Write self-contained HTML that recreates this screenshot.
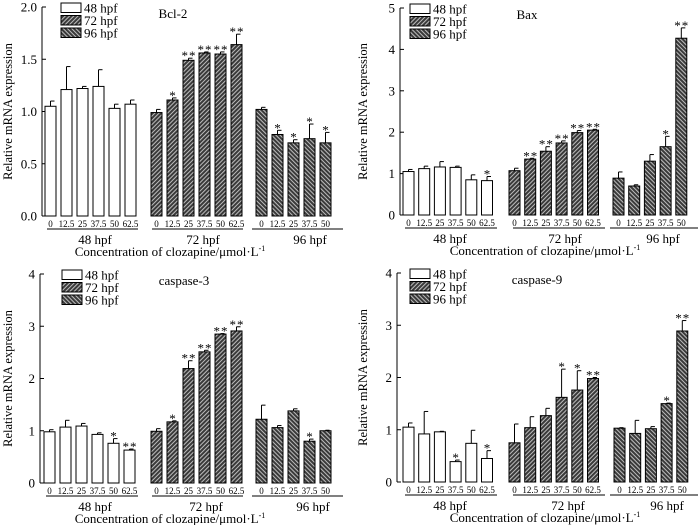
<!DOCTYPE html>
<html><head><meta charset="utf-8"><style>
html,body{margin:0;padding:0;background:#fff;}
svg{display:block;font-family:"Liberation Serif",serif;}
</style></head><body>
<svg id="chart" width="700" height="525" viewBox="0 0 700 525">
<defs>
<pattern id="h72" width="3" height="3" patternUnits="userSpaceOnUse" patternTransform="rotate(45)"><rect width="3" height="3" fill="#3a3a3a"/><rect width="1" height="3" fill="#bdbdbd"/></pattern>
<pattern id="h96" width="3" height="3" patternUnits="userSpaceOnUse" patternTransform="rotate(-45)"><rect width="3" height="3" fill="#3a3a3a"/><rect width="1" height="3" fill="#bdbdbd"/></pattern>
</defs>
</svg>
<script>
const cats48=["0","12.5","25","37.5","50","62.5"];
const cats72=["0","12.5","25","37.5","50","62.5"];
const cats96=["0","12.5","25","37.5","50"];
const groupLabels=["48 hpf","72 hpf","96 hpf"];
// Bcl-2
const bcl48=[1.05,1.21,1.22,1.24,1.03,1.07], bcl48e=[0.05,0.22,0.02,0.16,0.04,0.04], bcl48s=["","","","","",""];
const bcl72=[0.99,1.11,1.49,1.56,1.55,1.64], bcl72e=[0.03,0.02,0.02,0.01,0.02,0.10], bcl72s=["","*","**","**","**","**"];
const bcl96=[1.02,0.78,0.70,0.74,0.70], bcl96e=[0.02,0.04,0.03,0.14,0.10], bcl96s=["","*","*","*","*"];
const bclTicks=["0.0","0.5","1.0","1.5","2.0"];
// Bax
const bax48=[1.05,1.12,1.16,1.15,0.85,0.83], bax48e=[0.05,0.06,0.13,0.03,0.12,0.10], bax48s=["","","","","","*"];
const bax72=[1.07,1.35,1.54,1.74,1.99,2.05], bax72e=[0.06,0.02,0.11,0.05,0.05,0.02], bax72s=["","**","**","**","**","**"];
const bax96=[0.89,0.70,1.30,1.65,4.27], bax96e=[0.15,0.03,0.16,0.25,0.25], bax96s=["","","","*","**"];
const baxTicks=["0","1","2","3","4","5"];
// caspase-3
const c3_48=[0.98,1.07,1.09,0.93,0.76,0.63], c3_48e=[0.04,0.13,0.05,0.03,0.09,0.02], c3_48s=["","","","","*","**"];
const c3_72=[0.99,1.17,2.19,2.51,2.85,2.91], c3_72e=[0.05,0.02,0.15,0.03,0.01,0.08], c3_72s=["","*","**","**","**","**"];
const c3_96=[1.22,1.06,1.38,0.80,1.00], c3_96e=[0.27,0.04,0.04,0.04,0.01], c3_96s=["","","","*",""];
const c3Ticks=["0","1","2","3","4"];
// caspase-9
const c9_48=[1.05,0.92,0.96,0.39,0.74,0.45], c9_48e=[0.08,0.43,0.01,0.03,0.25,0.15], c9_48s=["","","","*","","*"];
const c9_72=[0.75,1.04,1.27,1.62,1.76,1.98], c9_72e=[0.36,0.21,0.14,0.54,0.37,0.02], c9_72s=["","","","*","*","**"];
const c9_96=[1.03,0.93,1.02,1.50,2.89], c9_96e=[0.01,0.25,0.04,0.01,0.20], c9_96s=["","","","*","**"];
const c9Ticks=["0","1","2","3","4"];

const NS="http://www.w3.org/2000/svg";
const svg=document.getElementById('chart');
function mk(tag,attrs,parent,text){const e=document.createElementNS(NS,tag);for(const k in attrs)e.setAttribute(k,attrs[k]);if(text!==undefined)e.textContent=text;parent.appendChild(e);return e;}

function panel(cfg){
  const g=mk('g',{},svg);
  
  
  const ymax=parseFloat(cfg.ticks[cfg.ticks.length-1]);
  const Y=v=>cfg.y0-(v/ymax)*(cfg.y0-cfg.yTop);
  const ax=mk('line',{x1:cfg.ax,x2:cfg.ax,y1:cfg.yTop,y2:cfg.y0,stroke:'#000','stroke-width':1},g);
  
  
  cfg.ticks.forEach(t=>{
    const v=parseFloat(t);const y=Y(v);
    mk('line',{x1:cfg.ax,x2:cfg.ax+4,y1:y,y2:y,stroke:'#000'},g);
    const tl=mk('text',{x:cfg.ax-5,y:y+4.5,'text-anchor':'end','font-size':13},g,t);
    
    
  });
  const cy=(cfg.yTop+cfg.y0)/2;
  const yt=mk('text',{x:0,y:0,'text-anchor':'middle','font-size':12.5,transform:`translate(${cfg.ytx},${cy}) rotate(-90)`},g,'Relative mRNA expression');
  
  
  const fills=['#fff','url(#h72)','url(#h96)'];
  const catsAll=[cats48,cats72,cats96];
  cfg.groups.forEach((grp,gi)=>{
    const [vals,errs,stars]=grp;
    vals.forEach((v,i)=>{
      const x=cfg.gx[gi]+i*cfg.sp, w=11;
      const r=mk('rect',{x:x,y:Y(v),width:w,height:cfg.y0-Y(v),fill:fills[gi],stroke:'#000','stroke-width':1},g);
      
      
      const ye=Y(v+errs[i]), cx=x+w/2;
      mk('line',{x1:cx,x2:cx,y1:Y(v),y2:ye,stroke:'#000'},g);
      mk('line',{x1:cx,x2:cx+4,y1:ye,y2:ye,stroke:'#000'},g);
      if(stars[i]){const s=mk('text',{x:cx+0.5,y:ye+2,'text-anchor':'middle','font-size':13,'letter-spacing':1},g,stars[i]);
        
        }
      const cl=mk('text',{x:cx,y:cfg.y0+11,'text-anchor':'middle','font-size':9},g,catsAll[gi][i]);
      
      
    });
    const [u1,u2]=cfg.ul[gi];
    mk('line',{x1:u1,x2:u2,y1:cfg.y0+13,y2:cfg.y0+13,stroke:'#000'},g);
    const gl=mk('text',{x:cfg.glx[gi],y:cfg.y0+28,'text-anchor':'middle','font-size':13},g,groupLabels[gi]);
    
    
  });
  const xt=mk('text',{x:cfg.xtx,y:cfg.y0+40,'text-anchor':'middle','font-size':13},g);
  
  
  xt.textContent='Concentration of clozapine/μmol·L';
  mk('tspan',{dy:-5,'font-size':8},xt,'-1');
  const lg=mk('g',{},g);
  
  
  groupLabels.forEach((l,i)=>{
    const y=cfg.yTop-4+i*12.5;
    mk('rect',{x:cfg.lx,y:y,width:20,height:9.5,fill:fills[i],stroke:'#000'},lg);
    mk('text',{x:cfg.lx+23,y:y+9.5,'font-size':13},lg,l);
  });
  const t=mk('text',{x:cfg.tx,y:cfg.yTop+11,'text-anchor':'middle','font-size':13},g,cfg.title);
  
  
}

panel({name:'bcl-2',title:'Bcl-2',ax:42,y0:216,yTop:7,ticks:bclTicks,ytx:12,sp:16,gx:[45,151,256],
  groups:[[bcl48,bcl48e,bcl48s],[bcl72,bcl72e,bcl72s],[bcl96,bcl96e,bcl96s]],
  ul:[[47,138],[152,243],[252,343]],glx:[95,203,310],xtx:170,lx:61,tx:173});
panel({name:'bax',title:'Bax',ax:400,y0:215,yTop:8,ticks:baxTicks,ytx:367,sp:15.7,gx:[403,509,613],
  groups:[[bax48,bax48e,bax48s],[bax72,bax72e,bax72s],[bax96,bax96e,bax96s]],
  ul:[[405,497],[513,605],[610,698]],glx:[450,565,663],xtx:545,lx:410,tx:527});
panel({name:'caspase-3',title:'caspase-3',ax:40,y0:483,yTop:274,ticks:c3Ticks,ytx:12,sp:16,gx:[44,151,256],
  groups:[[c3_48,c3_48e,c3_48s],[c3_72,c3_72e,c3_72s],[c3_96,c3_96e,c3_96s]],
  ul:[[46,138],[152,243],[252,343]],glx:[95,206,313],xtx:170,lx:62,tx:184});
panel({name:'caspase-9',title:'caspase-9',ax:397,y0:482,yTop:273,ticks:c9Ticks,ytx:367,sp:15.7,gx:[403,509,614],
  groups:[[c9_48,c9_48e,c9_48s],[c9_72,c9_72e,c9_72s],[c9_96,c9_96e,c9_96s]],
  ul:[[405,497],[513,605],[610,698]],glx:[450,568,667],xtx:545,lx:410,tx:537});
</script>
</body></html>
